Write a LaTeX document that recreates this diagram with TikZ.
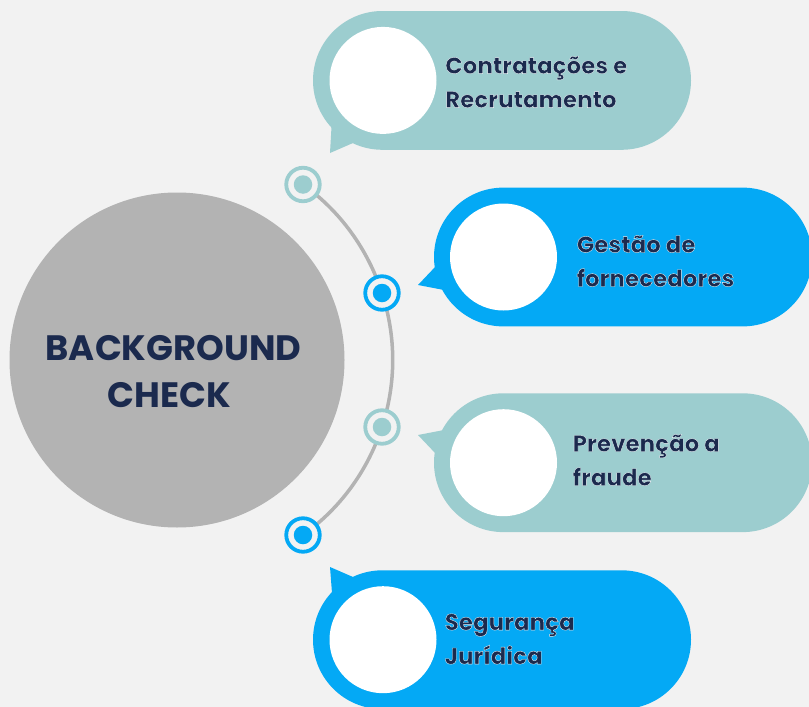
\documentclass[tikz,border=0pt]{standalone}
\usepackage{fontspec}
\setmainfont{Poppins}
\usetikzlibrary{backgrounds}
\definecolor{bgc}{HTML}{F2F2F2}
\definecolor{teal}{HTML}{9CCDCF}
\definecolor{sky}{HTML}{04A9F5}
\definecolor{ink}{HTML}{1B2A4E}
\definecolor{arcc}{HTML}{B3B3B3}
\newcommand{\halotext}[1]{\special{pdf:code q 2 Tr 0.35 w 0.93 0.95 0.97 RG}#1\special{pdf:code Q}}
\tikzset{
  x=1pt,y=-1pt,
  pill/.style={draw=none,fill=#1,rectangle,rounded corners=69.4pt,minimum width=378pt,minimum height=138.8pt,inner sep=0pt},
  tail/.style={draw=none,fill=#1},
  hole/.style={circle,fill=white,draw=none,minimum size=107pt,inner sep=0pt},
  label/.style={text=ink,align=left,anchor=west,inner sep=0pt,font=\fontsize{23pt}{34pt}\selectfont\bfseries},
  ringm/.style={circle,fill=bgc,draw=#1,line width=3.8pt,minimum size=33.5pt,inner sep=0pt},
  dotm/.style={circle,fill=#1,draw=none,minimum size=18.5pt,inner sep=0pt},
  hub/.style={circle,fill=arcc,draw=none,minimum size=335pt,inner sep=0pt},
  hubtext/.style={text=ink,align=center,inner sep=0pt,font=\fontsize{35.3pt}{47pt}\selectfont\bfseries},
  link/.style={draw=arcc,line width=3.5pt}
}
\begin{document}
\begin{tikzpicture}
\useasboundingbox (0,0) rectangle (809,707);
\clip (0,0) rectangle (809,707);

\node[hub] (hub) at (177,360) {};
\node[hubtext] (hubt) at (173.5,371.5) {BACKGROUND\\CHECK\hspace*{8pt}};

% markers
\node[ringm=teal] (m1) at (303,184.5) {};
\node[dotm=teal] (d1) at (303,184.5) {};
\node[ringm=sky] (m2) at (382,293) {};
\node[dotm=sky] (d2) at (382,293) {};
\node[ringm=teal] (m3) at (382,427) {};
\node[dotm=teal] (d3) at (382,427) {};
\node[ringm=sky] (m4) at (303,535) {};
\node[dotm=sky] (d4) at (303,535) {};
\begin{scope}[on background layer]
\fill[bgc] (0,0) rectangle (809,707);
\draw[link] (m1.center) to[out=-35.6,in=108.1,distance=46pt] (m2.center);
\draw[link] (m2.center) to[out=-71.9,in=71.9,distance=46pt] (m3.center);
\draw[link] (m3.center) to[out=-108.1,in=35.6,distance=46pt] (m4.center);
\end{scope}

% callouts
\fill[tail=teal] (331.5,127) -- (330,153) -- (353,143) -- cycle;
\node[pill=teal] (p1) at (502,80.4) {};
\node[hole] (h1) at (383,80.4) {};
\node[label] (t1) at (445,82) {\halotext{Contratações e}\\\halotext{Recrutamento}};

\fill[tail=sky] (436,266) -- (418,285) -- (444,290) -- cycle;
\node[pill=sky] (p2) at (623,257) {};
\node[hole] (h2) at (503.5,257) {};
\node[label] (t2) at (576.5,261) {\halotext{Gestão de}\\\halotext{fornecedores}};

\fill[tail=teal] (444,430) -- (418,435) -- (436,454) -- cycle;
\node[pill=teal] (p3) at (623,462.7) {};
\node[hole] (h3) at (503.5,462.7) {};
\node[label] (t3) at (572.5,460) {\halotext{Prevenção a}\\\halotext{fraude}};

\fill[tail=sky] (332,593) -- (330,567) -- (353,577) -- cycle;
\node[pill=sky] (p4) at (502,639.7) {};
\node[hole] (h4) at (383,639.7) {};
\node[label] (t4) at (444.5,639) {\halotext{Segurança}\\\halotext{Jurídica}};
\end{tikzpicture}
\end{document}
